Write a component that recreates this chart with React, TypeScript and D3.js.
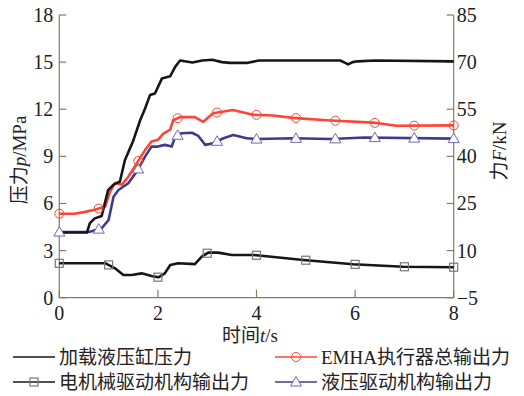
import React from 'react'
import * as d3 from 'd3'

// time (s) / value pairs
const cylinderPressure: [number, number][] = [
  [0, 4.15], [0.56, 4.15], [0.62, 4.75], [0.72, 5.05], [0.86, 5.2], [0.99, 6.85],
  [1.1, 7.2], [1.23, 7.4], [1.33, 8.75], [1.5, 10.0], [1.64, 11.3], [1.74, 12.05],
  [1.84, 12.9], [1.94, 13.0], [2.08, 13.95], [2.25, 14.1], [2.35, 14.7], [2.45, 15.1],
  [2.7, 14.98], [2.9, 15.1], [3.1, 15.15], [3.3, 15.0], [3.46, 14.95], [3.8, 14.95],
  [4.05, 15.1], [5.7, 15.1], [5.8, 14.95], [5.86, 14.85], [5.95, 15.0], [6.05, 15.05],
  [6.4, 15.1], [8, 15.05],
]

// kN
const emhaForce: [number, number][] = [
  [0, 21.75], [0.3, 21.75], [0.5, 22.25], [0.72, 23], [0.93, 24], [1.03, 28.75],
  [1.13, 31.5], [1.27, 31], [1.4, 33.5], [1.57, 37.75], [1.74, 42], [1.87, 44.75],
  [2.0, 45.25], [2.11, 47.25], [2.25, 48.5], [2.31, 51.5], [2.45, 52.5], [2.75, 52.5],
  [2.92, 51], [3.12, 53.75], [3.52, 54.75], [3.93, 53.25], [4.33, 53], [4.74, 52.25],
  [5.42, 51.5], [6.36, 50.75], [6.84, 49.75], [8, 49.85],
]

const motorForce: [number, number][] = [
  [0, 5.95], [0.94, 5.95], [1.13, 4.35], [1.3, 2.25], [1.47, 2.25], [1.67, 2.75],
  [1.87, 1.9], [2.01, 1.5], [2.14, 2.75], [2.25, 5.4], [2.41, 5.95], [2.75, 5.7],
  [2.89, 8.05], [3.02, 9.35], [3.22, 9.35], [3.5, 8.6], [3.94, 8.6], [4.95, 7.0],
  [5.96, 5.65], [6.98, 4.85], [8, 4.7],
]

const hydraulicForce: [number, number][] = [
  [0, 15.9], [0.6, 15.9], [0.86, 17.1], [1.0, 19.75], [1.1, 27.15], [1.2, 29.3],
  [1.4, 31.45], [1.57, 35.15], [1.74, 39.9], [1.87, 43.1], [2.0, 43.1], [2.14, 43.65],
  [2.28, 43.1], [2.35, 46.3], [2.48, 47.35], [2.69, 47.5], [2.82, 46.5], [2.96, 43.65],
  [3.12, 44.2], [3.33, 45.75], [3.53, 46.8], [3.8, 45.75], [4.0, 45.5], [4.75, 45.75],
  [5.5, 45.5], [6.2, 46], [8, 45.65],
]

const circleTimes = [0, 0.8, 1.6, 2.4, 3.2, 4.0, 4.8, 5.6, 6.4, 7.2, 8.0]
const triangleTimes = [0, 0.8, 1.6, 2.4, 3.2, 4.0, 4.8, 5.6, 6.4, 7.2, 8.0]
const squareTimes = [0, 1, 2, 3, 4, 5, 6, 7, 8]

const xTicks = [0, 2, 4, 6, 8]
const leftTicks = [0, 3, 6, 9, 12, 15, 18]
const rightTicks = [-5, 10, 25, 40, 55, 70, 85]

const W = 524
const H = 396
const m = { left: 59.3, right: 453.7, top: 15, bottom: 297.7 }

const AXIS = '#7f7f62'
const RED = '#ff4433'
const BLUE = '#3e3a8c'
const TRI = '#6d68b8'
const FONT = "'Liberation Serif', 'Noto Sans CJK SC', serif"

const x = d3.scaleLinear().domain([0, 8]).range([m.left, m.right])
const yL = d3.scaleLinear().domain([0, 18]).range([m.bottom, m.top])
const yR = d3.scaleLinear().domain([-5, 85]).range([m.bottom, m.top])

// value of a series at time t, used to sit markers on the line
function at(series: [number, number][], t: number) {
  const xs = series.map((d) => d[0])
  const ys = series.map((d) => d[1])
  return d3.scaleLinear().domain(xs).range(ys).clamp(true)(t)
}

const lineL = d3.line<[number, number]>().x((d) => x(d[0])).y((d) => yL(d[1]))
const lineR = d3.line<[number, number]>().x((d) => x(d[0])).y((d) => yR(d[1]))

function Square({ cx, cy }: { cx: number; cy: number }) {
  return <rect x={cx - 4} y={cy - 4} width={8} height={8} fill="none" stroke="#777" strokeWidth={1.2} />
}
function Circle({ cx, cy }: { cx: number; cy: number }) {
  return <circle cx={cx} cy={cy} r={4.5} fill="none" stroke={RED} strokeWidth={1} />
}
function Tri({ cx, cy }: { cx: number; cy: number }) {
  const p = `${cx},${cy - 5.5} ${cx + 5.5},${cy + 4} ${cx - 5.5},${cy + 4}`
  return <polygon points={p} fill="#fff" stroke={TRI} strokeWidth={1} />
}

export default function App() {
  return (
    <svg
      width={W}
      height={H}
      style={{ position: 'absolute', left: 0, top: 0, background: '#fff' }}
      fontFamily={FONT}
    >
      {/* axes */}
      <g stroke={AXIS} strokeWidth={1.2} fill="none">
        <line x1={m.left} x2={m.left} y1={m.top} y2={m.bottom} />
        <line x1={m.right} x2={m.right} y1={m.top} y2={m.bottom} />
        <line x1={m.left} x2={m.right} y1={m.bottom} y2={m.bottom} />
        {leftTicks.map((t) => (
          <line key={'l' + t} x1={m.left} x2={m.left + 7} y1={yL(t)} y2={yL(t)} />
        ))}
        {rightTicks.map((t) => (
          <line key={'r' + t} x1={m.right} x2={m.right - 7} y1={yR(t)} y2={yR(t)} />
        ))}
        {xTicks.map((t) => (
          <line key={'x' + t} x1={x(t)} x2={x(t)} y1={m.bottom} y2={m.bottom - 8} />
        ))}
      </g>
      <g fontSize={20} fill="#222">
        {leftTicks.map((t) => (
          <text key={'lt' + t} x={m.left - 6} y={yL(t)} dy="0.35em" textAnchor="end">{t}</text>
        ))}
        {rightTicks.map((t) => (
          <text key={'rt' + t} x={m.right + 3} y={yR(t)} dy="0.35em" textAnchor="start">
            {t < 0 ? '\u2212' + Math.abs(t) : t}
          </text>
        ))}
        {xTicks.map((t) => (
          <text key={'xt' + t} x={x(t)} y={320} textAnchor="middle">{t}</text>
        ))}
      </g>

      {/* axis titles */}
      <text x={250} y={342} fontSize={19} textAnchor="middle" fill="#222">
        时间<tspan fontStyle="italic">t</tspan>/s
      </text>
      <text transform="translate(26,160) rotate(-90)" fontSize={19} textAnchor="middle" fill="#222">
        压力<tspan fontStyle="italic">p</tspan>/MPa
      </text>
      <text transform="translate(506,151) rotate(-90)" fontSize={19} textAnchor="middle" fill="#222">
        力<tspan fontStyle="italic">F</tspan>/kN
      </text>

      {/* series */}
      <g fill="none" strokeWidth={2.6} strokeLinejoin="round">
        <path d={lineR(motorForce) || ''} stroke="#161616" />
        <path d={lineR(hydraulicForce) || ''} stroke={BLUE} />
        <path d={lineR(emhaForce) || ''} stroke={RED} />
        <path d={lineL(cylinderPressure) || ''} stroke="#161616" />
      </g>
      {squareTimes.map((t) => (
        <Square key={'s' + t} cx={x(t)} cy={yR(at(motorForce, t))} />
      ))}
      {triangleTimes.map((t) => (
        <Tri key={'t' + t} cx={x(t)} cy={yR(at(hydraulicForce, t))} />
      ))}
      {circleTimes.map((t) => (
        <Circle key={'c' + t} cx={x(t)} cy={yR(at(emhaForce, t))} />
      ))}

      {/* legend */}
      <g fontSize={19} fill="#222">
        <line x1={13} x2={55} y1={357} y2={357} stroke="#161616" strokeWidth={1.6} />
        <text x={59} y={357} dy="0.35em">加载液压缸压力</text>
        <line x1={13} x2={55} y1={382} y2={382} stroke="#161616" strokeWidth={1.6} />
        <Square cx={34} cy={382} />
        <text x={59} y={382} dy="0.35em">电机械驱动机构输出力</text>
        <line x1={275} x2={317} y1={357} y2={357} stroke={RED} strokeWidth={1.6} />
        <Circle cx={296} cy={357} />
        <text x={321} y={357} dy="0.35em">EMHA执行器总输出力</text>
        <line x1={275} x2={317} y1={382} y2={382} stroke={BLUE} strokeWidth={1.6} />
        <Tri cx={296} cy={382} />
        <text x={321} y={382} dy="0.35em">液压驱动机构输出力</text>
      </g>
    </svg>
  )
}
